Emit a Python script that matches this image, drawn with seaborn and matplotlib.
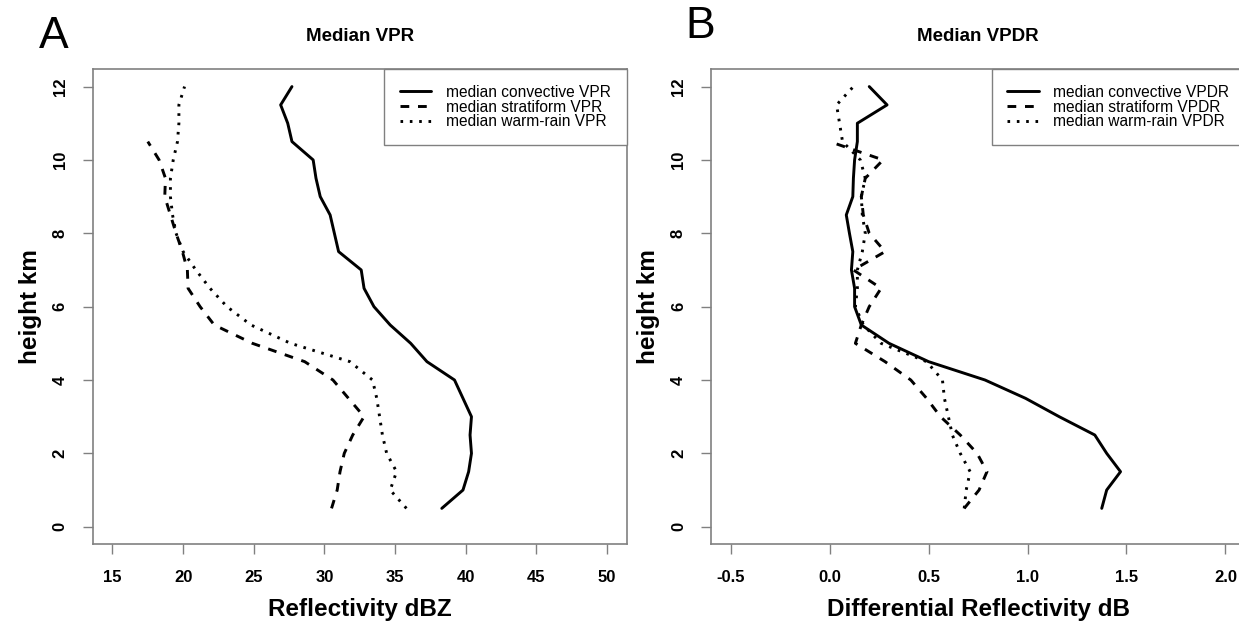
import matplotlib
matplotlib.use("Agg")
import matplotlib.pyplot as plt
import seaborn as sns
import pandas as pd

# ---------------- data (heights in km, bottom to top) ----------------
heights = [0.5, 1.0, 1.5, 2.0, 2.5, 3.0, 3.5, 4.0, 4.5, 5.0, 5.5, 6.0,
           6.5, 7.0, 7.5, 8.0, 8.5, 9.0, 9.5, 10.0, 10.5, 11.0, 11.5, 12.0]
strat_heights = heights[:21]

vpr_convective = [38.3, 39.8, 40.2, 40.4, 40.3, 40.4, 39.8, 39.2, 37.25, 36.1,
                  34.65, 33.5, 32.8, 32.6, 31.0, 30.7, 30.4, 29.7, 29.4, 29.2,
                  27.7, 27.4, 26.9, 27.7]
vpr_stratiform = [30.5, 30.9, 31.1, 31.4, 32.0, 32.8, 31.7, 30.6, 28.6, 24.9,
                  22.2, 21.2, 20.35, 20.3, 19.95, 19.5, 19.1, 18.7, 18.75, 18.3,
                  17.5]
vpr_warmrain = [35.8, 34.65, 35.1, 34.4, 34.1, 33.9, 33.7, 33.4, 31.8, 27.6,
                24.8, 23.1, 21.9, 20.9, 20.0, 19.5, 19.25, 19.1, 19.1, 19.3,
                19.6, 19.7, 19.7, 20.1]

vpdr_convective = [1.375, 1.40, 1.47, 1.40, 1.34, 1.16, 0.99, 0.785, 0.50, 0.30,
                   0.16, 0.126, 0.126, 0.11, 0.117, 0.10, 0.084, 0.117, 0.12,
                   0.126, 0.14, 0.14, 0.29, 0.20]
vpdr_stratiform = [0.68, 0.755, 0.795, 0.745, 0.66, 0.56, 0.49, 0.41, 0.28, 0.13,
                   0.16, 0.20, 0.26, 0.12, 0.28, 0.20, 0.17, 0.16, 0.18, 0.27,
                   0.0]
vpdr_warmrain = [0.68, 0.69, 0.71, 0.66, 0.62, 0.60, 0.58, 0.57, 0.49, 0.26,
                 0.17, 0.13, 0.14, 0.14, 0.165, 0.18, 0.165, 0.16, 0.18, 0.155,
                 0.065, 0.05, 0.035, 0.12]

vpr_labels = ["median convective VPR", "median stratiform VPR", "median warm-rain VPR"]
vpdr_labels = ["median convective VPDR", "median stratiform VPDR", "median warm-rain VPDR"]

vpr_xticks = [15, 20, 25, 30, 35, 40, 45, 50]
vpdr_xticks = [-0.5, 0.0, 0.5, 1.0, 1.5, 2.0]
yticks = [0, 2, 4, 6, 8, 10, 12]

# ---------------- style ----------------
sns.set_style("white")
plt.rcParams["font.family"] = ["Liberation Sans", "DejaVu Sans"]
plt.rcParams["text.color"] = "black"
plt.rcParams["axes.labelcolor"] = "black"
plt.rcParams["xtick.labelcolor"] = "black"
plt.rcParams["ytick.labelcolor"] = "black"
plt.rcParams["legend.labelcolor"] = "black"
plt.rcParams["lines.solid_capstyle"] = "round"
plt.rcParams["lines.dash_capstyle"] = "butt"

FRAME = "#808080"
styles = ["-", (0, (3.0, 3.0)), (0, (0.9, 2.3))]

fig = plt.figure(figsize=(12.39, 6.23), dpi=100)
axA = fig.add_axes([0.0748, 0.1263, 0.4312, 0.763])
axB = fig.add_axes([0.5738, 0.1263, 0.4312, 0.763])


def draw(ax, series, hts, labels, xlim, xticks, xticklabels, xlabel, title):
    for vals, h, lab, ls in zip(series, hts, labels, styles):
        df = pd.DataFrame({"x": vals, "h": h})
        sns.lineplot(data=df, x="x", y="h", ax=ax, sort=False, estimator=None,
                     color="black", linewidth=2.1, linestyle=ls, label=lab)
    span = xlim[1] - xlim[0]
    ax.set_xlim(xlim[0] - 0.04 * span, xlim[1] + 0.04 * span)
    ax.set_ylim(-0.48, 12.48)
    ax.set_xticks(xticks)
    ax.set_xticklabels(xticklabels, fontweight="bold", fontsize=12)
    ax.set_yticks(yticks)
    ax.set_yticklabels([str(t) for t in yticks], fontweight="bold", fontsize=12,
                       rotation=90, va="center")
    ax.tick_params(axis="x", direction="out", length=7, width=1, color=FRAME,
                   labelcolor="black", pad=11.5, bottom=True)
    ax.tick_params(axis="y", direction="out", length=7, width=1, color=FRAME,
                   labelcolor="black", pad=11, left=True)
    for sp in ax.spines.values():
        sp.set_color(FRAME)
        sp.set_linewidth(1.2)
        sp.set_visible(True)
    ax.set_xlabel(xlabel, fontsize=17.5, fontweight="bold", labelpad=9,
                  color="black")
    ax.set_ylabel("height km", fontsize=17.5, fontweight="bold", labelpad=8,
                  color="black")
    ax.set_title(title, fontsize=13.5, fontweight="bold", pad=20, color="black")
    leg = ax.legend(loc="upper right", borderaxespad=0, frameon=True,
                    fancybox=False, fontsize=11.2, handlelength=2.0,
                    handletextpad=0.95, borderpad=1.02, labelspacing=-0.02)
    leg.get_frame().set_edgecolor(FRAME)
    leg.get_frame().set_linewidth(1.0)
    leg.get_frame().set_alpha(1)
    for t in leg.get_texts():
        t.set_color("black")


draw(axA, [vpr_convective, vpr_stratiform, vpr_warmrain],
     [heights, strat_heights, heights], vpr_labels, (15, 50), vpr_xticks,
     [str(t) for t in vpr_xticks], "Reflectivity dBZ", "Median VPR")
draw(axB, [vpdr_convective, vpdr_stratiform, vpdr_warmrain],
     [heights, strat_heights, heights], vpdr_labels, (-0.5, 2.0), vpdr_xticks,
     [f"{t:.1f}" for t in vpdr_xticks], "Differential Reflectivity dB", "Median VPDR")

fig.text(0.043, 0.942, "A", fontsize=32, ha="center", va="center", color="black")
fig.text(0.565, 0.958, "B", fontsize=32, ha="center", va="center", color="black")

fig.savefig("out.png", dpi=100)
